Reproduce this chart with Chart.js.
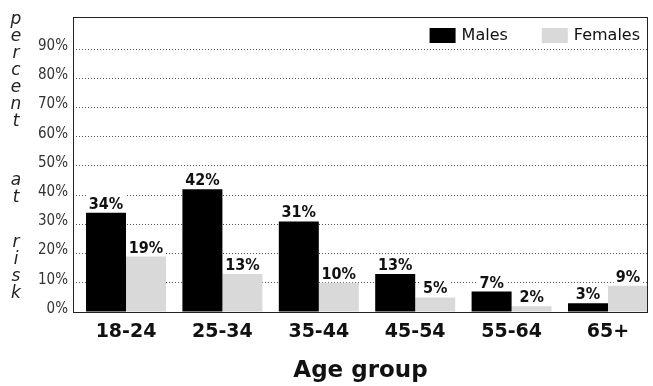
<!DOCTYPE html>
<html>
<head>
<meta charset="utf-8">
<script src="https://cdn.jsdelivr.net/npm/chart.js@4/dist/chart.umd.min.js"></script>
<style>
  html, body { margin: 0; padding: 0; background: #fff; }
  canvas { display: block; }
</style>
</head>
<body>
<canvas id="chart" width="653" height="386"></canvas>
<script>
// Age groups and the share of each sex at risk (percent)
const ageGroups = ['18-24', '25-34', '35-44', '45-54', '55-64', '65+'];
const males = [34, 42, 31, 13, 7, 3];
const females = [19, 13, 10, 5, 2, 9];
const seriesNames = ['Males', 'Females'];
const yTickValues = [0, 10, 20, 30, 40, 50, 60, 70, 80, 90];
const yTitleWords = ['percent', 'at', 'risk'];
const xTitle = 'Age group';

const NARROW = '"Liberation Sans Narrow", "DejaVu Sans Condensed", "Liberation Sans", sans-serif';
const WIDE = '"DejaVu Sans", "Liberation Sans", sans-serif';

const toPoints = values => values.map((v, i) => ({ x: i, y: v }));

// Box around the plotting area
const framePlugin = {
  id: 'frame',
  afterDatasetsDraw(chart) {
    const { ctx, chartArea: a } = chart;
    ctx.save();
    ctx.strokeStyle = '#222';
    ctx.lineWidth = 1;
    ctx.strokeRect(Math.round(a.left) + 0.5, Math.round(a.top) + 0.5,
                   Math.round(a.right - a.left) - 1, Math.round(a.bottom - a.top));
    ctx.restore();
  }
};

// Percentage printed above each bar, on a white patch over the grid
const valueLabelPlugin = {
  id: 'valueLabels',
  afterDatasetsDraw(chart) {
    const { ctx } = chart;
    ctx.save();
    ctx.font = 'bold 16px ' + NARROW;
    ctx.textAlign = 'center';
    ctx.textBaseline = 'alphabetic';
    chart.data.datasets.forEach((ds, di) => {
      const meta = chart.getDatasetMeta(di);
      meta.data.forEach((bar, i) => {
        const text = ds.data[i].y + '%';
        const w = ctx.measureText(text).width;
        const base = bar.y - 4;
        ctx.fillStyle = '#fff';
        ctx.fillRect(bar.x - w / 2 - 2, base - 14, w + 4, 16);
        ctx.fillStyle = '#111';
        ctx.fillText(text, bar.x, base);
      });
    });
    ctx.restore();
  }
};

// Legend in the upper right corner of the plot
const cornerLegendPlugin = {
  id: 'cornerLegend',
  afterDraw(chart) {
    const { ctx, chartArea: a } = chart;
    ctx.save();
    ctx.font = '16px ' + WIDE;
    ctx.textBaseline = 'middle';
    ctx.textAlign = 'left';
    const top = a.top + 11;
    const boxW = 26, boxH = 15;
    let x = a.right - 8;
    const sets = chart.data.datasets;
    for (let i = sets.length - 1; i >= 0; i--) {
      const label = sets[i].label;
      const w = ctx.measureText(label).width;
      const textX = x - w;
      const boxX = textX - 6 - boxW;
      ctx.fillStyle = sets[i].backgroundColor;
      ctx.fillRect(boxX, top, boxW, boxH);
      ctx.fillStyle = '#111';
      ctx.fillText(label, textX, top + boxH / 2 + 0.5);
      x = boxX - 34;
    }
    ctx.restore();
  }
};

// Vertical, letter-by-letter y axis title
const stackedTitlePlugin = {
  id: 'stackedTitle',
  afterDraw(chart) {
    const { ctx } = chart;
    const starts = [20, 181, 243];
    const step = 17;
    ctx.save();
    ctx.font = 'italic 17px ' + WIDE;
    ctx.fillStyle = '#222';
    ctx.textAlign = 'center';
    ctx.textBaseline = 'middle';
    yTitleWords.forEach((word, wi) => {
      [...word].forEach((ch, ci) => ctx.fillText(ch, 16, starts[wi] + ci * step));
    });
    ctx.restore();
  }
};

new Chart(document.getElementById('chart'), {
  type: 'bar',
  data: {
    datasets: [
      { label: seriesNames[0], data: toPoints(males), backgroundColor: '#000000', borderWidth: 0 },
      { label: seriesNames[1], data: toPoints(females), backgroundColor: '#d9d9d9', borderWidth: 0 }
    ]
  },
  options: {
    responsive: false,
    devicePixelRatio: 1,
    animation: false,
    layout: { padding: { top: 17, right: 5, left: 0, bottom: 0 } },
    datasets: { bar: { categoryPercentage: 0.83, barPercentage: 1 } },
    plugins: { legend: { display: false }, tooltip: { enabled: false } },
    scales: {
      x: {
        type: 'linear',
        offset: false,
        min: -0.55,
        max: 5.415,
        afterBuildTicks: scale => { scale.ticks = ageGroups.map((_, i) => ({ value: i })); },
        afterFit: scale => { scale.height = 74; },
        grid: { display: false, offset: false },
        border: { display: false },
        ticks: {
          autoSkip: false,
          maxRotation: 0,
          padding: 1,
          color: '#111',
          font: { family: WIDE, size: 19, weight: 'bold' },
          callback: v => ageGroups[v]
        },
        title: {
          display: true,
          text: xTitle,
          color: '#111',
          font: { family: WIDE, size: 23, weight: 'bold' },
          padding: { top: 0, bottom: 1 }
        }
      },
      y: {
        min: 0,
        max: 101,
        afterBuildTicks: scale => { scale.ticks = yTickValues.map(v => ({ value: v })); },
        afterFit: scale => { scale.width = 73; },
        grid: {
          drawTicks: false,
          color: c => (c.tick && c.tick.value === 0 ? 'rgba(0,0,0,0)' : '#555'),
          lineWidth: 1
        },
        border: { display: false, dash: [1, 2] },
        ticks: {
          padding: 5,
          labelOffset: -3,
          color: '#333',
          font: { family: NARROW, size: 15 },
          callback: v => v + '%'
        }
      }
    }
  },
  plugins: [framePlugin, valueLabelPlugin, cornerLegendPlugin, stackedTitlePlugin]
});
</script>
</body>
</html>
